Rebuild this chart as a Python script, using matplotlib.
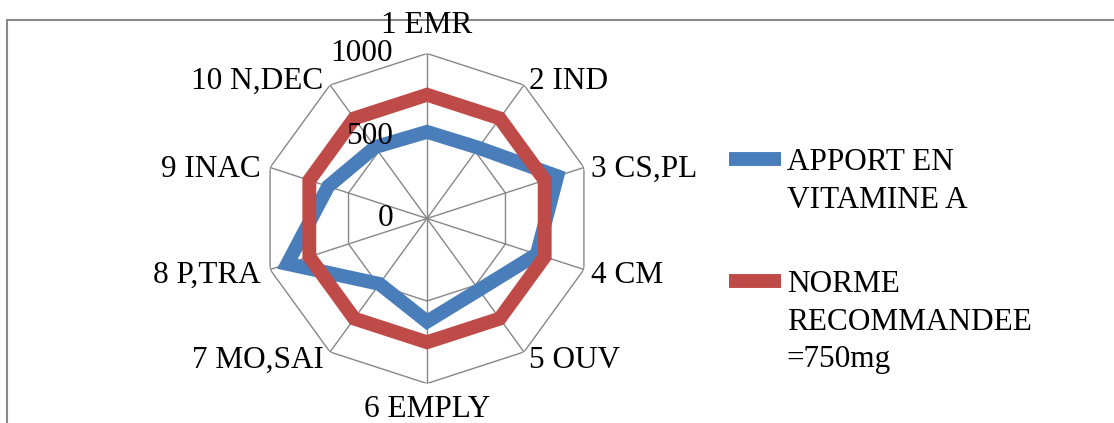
import numpy as np
import matplotlib.pyplot as plt
from matplotlib.lines import Line2D
from matplotlib.transforms import offset_copy

categories = ['1 EMR', '2 IND', '3 CS,PL', '4 CM', '5 OUV',
              '6 EMPLY', '7 MO,SAI', '8 P,TRA', '9 INAC', '10 N,DEC']
apport = [525, 530, 830, 700, 535, 625, 490, 890, 630, 535]
norme = [750, 750, 750, 750, 750, 750, 750, 750, 750, 750]
series_labels = ['APPORT EN\nVITAMINE A', 'NORME\nRECOMMANDEE\n=750mg']
series_colors = ['#4A7EBB', '#BE4B48']
rings = [0, 500, 1000]

plt.rcParams['font.family'] = ['Liberation Serif', 'DejaVu Serif']
plt.rcParams['font.size'] = 22.5

W, H = 1114, 423
fig = plt.figure(figsize=(W / 100, H / 100), dpi=100)

def fx(x):
    return x / W

def fy(y):
    return 1 - y / H

# polar area: centre (427, 218.5), radius 165 px
cx, cy, rad = 427, 218.5, 165
ax = fig.add_axes([fx(cx - rad), fy(cy + rad), 2 * rad / W, 2 * rad / H], polar=True)
ax.set_theta_offset(np.pi / 2)
ax.set_theta_direction(-1)
ax.set_ylim(0, rings[-1])
ax.axis('off')

theta = np.arange(len(categories)) * 2 * np.pi / len(categories)
closed = np.append(theta, theta[0])
grid_c = '#878787'

# polygon rings and spokes
for r in rings[1:]:
    ax.plot(closed, [r] * len(closed), color=grid_c, lw=1.0, zorder=1)
for t in theta:
    ax.plot([t, t], [0, rings[-1]], color=grid_c, lw=1.0, zorder=1)

# series
for vals, col in zip([apport, norme], series_colors):
    ax.fill(theta, vals, facecolor='none', edgecolor=col, lw=10,
            joinstyle='miter', zorder=3)

# radial value labels, left of the top spoke
for r in rings:
    tr = offset_copy(ax.transData, fig=fig, x=-34, y=0, units='dots')
    ax.text(0, r, str(r), ha='right', va='center', transform=tr, zorder=4)

# category labels (offsets in px from each outer vertex)
label_pos = [(0, 21, 'center'), (5, -4, 'left'), (7, -9.5, 'left'),
             (7, -13.5, 'left'), (5, -16, 'left'), (0, -33.5, 'center'),
             (-6, -16, 'right'), (-9, -13.5, 'right'), (-9, -9.5, 'right'),
             (-7, -4, 'right')]
for t, lab, (dx, dy, ha) in zip(theta, categories, label_pos):
    tr = offset_copy(ax.transData, fig=fig, x=dx, y=dy, units='dots')
    ax.text(t, rings[-1], lab, ha=ha, va='baseline', transform=tr,
            clip_on=False, zorder=5)

# chart area border (top and left edges)
border_c = '#8a8a8a'
fig.add_artist(Line2D([fx(7), fx(W)], [fy(20), fy(20)], color=border_c, lw=1.5, zorder=0))
fig.add_artist(Line2D([fx(7), fx(7)], [fy(20), fy(H)], color=border_c, lw=1.5, zorder=0))

# legend
for (y0, lab, col) in zip([159, 281], series_labels, series_colors):
    fig.add_artist(Line2D([fx(729), fx(781)], [fy(y0), fy(y0)], color=col,
                          lw=10, solid_capstyle='butt'))
    for i, line in enumerate(lab.split('\n')):
        fig.text(fx(787), fy(y0 + 11 + i * 37.5), line, ha='left', va='baseline')

fig.savefig('out.png', dpi=100)
